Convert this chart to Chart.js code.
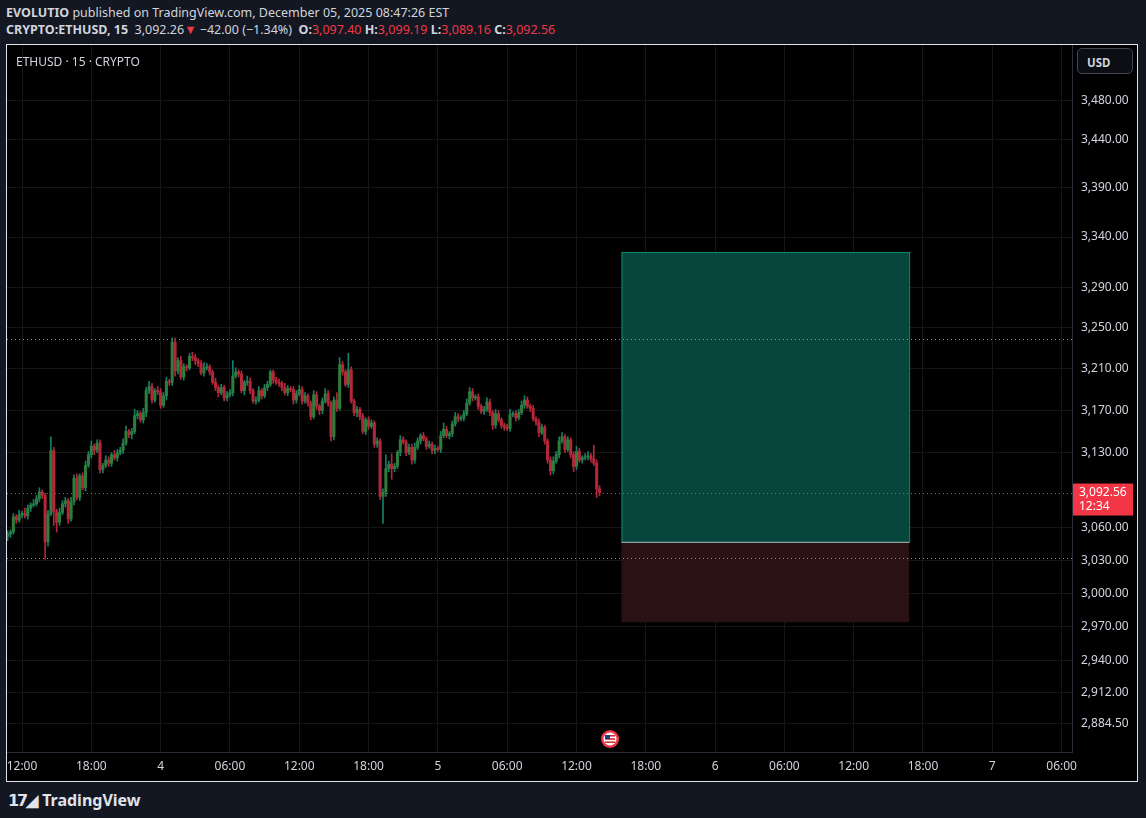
<!DOCTYPE html>
<html><head><meta charset="utf-8">
<script src="https://cdn.jsdelivr.net/npm/chart.js@4.4.1/dist/chart.umd.min.js"></script>
<style>
html,body{margin:0;padding:0;background:#131722;width:1146px;height:818px;overflow:hidden;font-family:"Noto Sans",Roboto,sans-serif;color:#d1d4dc}
#h1{position:absolute;left:6px;top:4px;font-size:12.5px;color:#d1d4dc}
#h2{position:absolute;left:6px;top:21px;font-size:12.5px;color:#d1d4dc}
#panel{position:absolute;left:6px;top:44px;width:1132px;height:738px;border:1px solid #e0e3eb;background:#000;box-sizing:border-box}
#wrap{position:absolute;left:7px;top:45px;width:1131px;height:737px}
#sym{position:absolute;left:16px;top:53px;font-size:12px;color:#d1d4dc}
#usd{position:absolute;left:1077px;top:48px;width:56px;height:26px;border:1px solid #434651;border-radius:5px;background:#0c0e13;font-size:11.5px;font-weight:bold;color:#d1d4dc;box-sizing:border-box;padding:6px 0 0 9px}
#logo{position:absolute;left:8px;top:789px;font-size:16px;font-weight:bold;color:#e0e3eb}
.r{color:#f23645}
</style></head><body>
<div id="h1"><b>EVOLUTIO</b> published on TradingView.com, December 05, 2025 08:47:26 EST</div>
<div id="h2"><b>CRYPTO:ETHUSD, 15</b>&nbsp; 3,092.26<span class="r">▼</span> −42.00 (−1.34%) &nbsp;<b>O:</b><span class="r">3,097.40</span> <b>H:</b><span class="r">3,099.19</span> <b>L:</b><span class="r">3,089.16</span> <b>C:</b><span class="r">3,092.56</span></div>
<div id="panel"></div>
<div id="wrap"><canvas id="c" width="1131" height="737"></canvas></div>
<div id="sym">ETHUSD · 15 · CRYPTO</div>
<div id="usd">USD</div>
<div id="logo"><span style="letter-spacing:-2px">𝟭𝟳</span>◢ TradingView</div>
<script>
const firstOpen = 3052;
const closes = [3054,3056,3070,3067,3072,3073,3071,3078,3081,3082,3087,3093,3090,3047,3073,3132,3075,3065,3074,3082,
3085,3068,3084,3106,3088,3108,3097,3118,3128,3136,3132,3139,3114,3118,3123,3120,3128,3125,3130,3132,
3139,3150,3147,3150,3165,3167,3161,3168,3189,3193,3180,3189,3188,3175,3184,3198,3197,3236,3208,3218,
3202,3212,3211,3222,3221,3218,3215,3206,3211,3212,3207,3197,3192,3187,3192,3182,3185,3187,3203,3207,
3205,3189,3197,3198,3189,3179,3180,3189,3184,3192,3195,3207,3199,3197,3196,3192,3187,3191,3190,3180,
3186,3190,3179,3184,3177,3164,3185,3174,3170,3179,3186,3177,3145,3180,3172,3214,3207,3195,3209,3179,
3168,3171,3164,3150,3161,3155,3158,3138,3141,3089,3093,3115,3119,3115,3117,3130,3142,3140,3130,3135,
3123,3135,3141,3146,3143,3136,3138,3132,3134,3133,3146,3152,3146,3148,3157,3164,3162,3163,3167,3177,
3188,3182,3183,3174,3169,3171,3178,3168,3156,3167,3161,3156,3154,3153,3166,3167,3163,3168,3175,3180,
3174,3172,3162,3159,3149,3154,3141,3123,3113,3122,3128,3141,3145,3133,3142,3128,3117,3131,3123,3125,
3126,3127,3124,3120,3096,3092.56];
const upExt = [3,2,3,2,4,2,5,3,2,4,3,4,2,2,3,13,3,2,4,3,
3,2,4,3,4,2,3,4,3,5,2,3,3,2,4,3,2,4,3,3,
4,5,2,3,6,3,2,4,3,5,3,2,4,3,3,4,2,4,4,3,
4,3,2,3,4,3,2,3,5,3,2,2,4,2,3,2,3,3,15,4,
2,3,2,5,3,2,3,4,2,3,3,2,2,3,3,2,4,3,2,3,
3,4,3,3,2,2,4,3,2,3,5,3,2,3,7,7,3,2,16,3,
2,3,2,3,2,3,3,2,3,2,3,13,3,10,3,2,4,3,2,3,
3,4,3,2,3,2,3,2,3,2,4,6,3,2,3,4,3,2,3,4,
4,3,2,3,2,3,4,3,2,4,3,2,2,3,5,2,3,3,4,4,
3,2,3,2,3,3,2,2,3,4,3,4,4,2,3,2,3,5,3,2,
3,4,2,13,3,3];
const dnExt = [4,3,2,3,2,3,2,3,3,2,2,3,3,16,4,2,13,9,3,2,
3,4,2,3,2,3,2,3,2,3,4,2,3,3,2,3,3,2,3,2,
3,2,3,4,2,3,2,3,4,3,3,2,3,3,2,4,3,3,5,3,
2,3,3,2,3,4,3,2,3,2,3,2,3,4,2,3,3,2,3,2,
3,2,4,3,3,2,3,2,3,2,3,2,3,2,3,3,2,3,2,4,
3,2,3,2,3,3,2,3,4,3,2,3,4,3,3,2,3,2,3,2,
3,4,3,2,3,3,2,3,3,3,25,4,3,10,3,2,3,2,3,2,
4,3,2,3,2,3,2,3,3,2,3,2,2,3,3,2,3,2,3,2,
2,3,2,3,2,3,2,3,4,3,2,3,3,2,3,2,3,2,2,3,
2,3,2,3,4,2,3,3,4,3,2,3,2,3,2,3,5,3,2,3,
2,3,3,2,8,3];
const startHour = -1.25, stepHour = 0.25;   // hours since Dec 3 12:00
const timeTickHours = [0,6,12,18,24,30,36,42,48,54,60,66,72,78,84,90];
const timeTickLabels = ["12:00","18:00","4","06:00","12:00","18:00","5","06:00","12:00","18:00","6","06:00","12:00","18:00","7","06:00"];
const priceTicks = [3480,3440,3390,3340,3290,3250,3210,3170,3130,3060,3030,3000,2970,2940,2912,2884.5];
const lastPrice = 3092.56;
const hLines = [3239, 3032];
const position = {t0:51.9, t1:76.8, target:3325, entry:3047, stop:2974};

const GREEN='#2f7d3a', RED='#b2283a', WG='#12806a', WR='#b2283a';
const bodies=[], wicks=[], bc=[], wc=[];
closes.forEach((c,i)=>{
  const o = i===0?firstOpen:closes[i-1];
  const t = startHour+i*stepHour;
  const up = c>=o;
  bodies.push({x:t,y:[o,c]});
  wicks.push({x:t,y:[Math.min(o,c)-dnExt[i],Math.max(o,c)+upExt[i]]});
  bc.push(up?GREEN:RED); wc.push(up?WG:WR);
});
const fmt = v=>v.toLocaleString('en-US',{minimumFractionDigits:2,maximumFractionDigits:2});

const overlay={id:'ov',
 beforeDatasetsDraw(ch){
  const {ctx,scales:{x,y},chartArea:a}=ch;
  ctx.save();
  const x0=x.getPixelForValue(position.t0), x1=x.getPixelForValue(position.t1);
  const yt=y.getPixelForValue(position.target), ye=y.getPixelForValue(position.entry), ys=y.getPixelForValue(position.stop);
  ctx.fillStyle='#07463c'; ctx.fillRect(x0,yt,x1-x0,ye-yt);
  ctx.fillStyle='#2a1114'; ctx.fillRect(x0,ye,x1-x0,ys-ye);
  ctx.strokeStyle='#0c8a72'; ctx.lineWidth=1; ctx.strokeRect(x0+0.5,yt+0.5,x1-x0,ye-yt);
  ctx.strokeStyle='#b0b3b8'; ctx.beginPath(); ctx.moveTo(x0,ye+0.5); ctx.lineTo(x1,ye+0.5); ctx.stroke();
  ctx.setLineDash([1,3]); ctx.strokeStyle='#8a8e98';
  hLines.forEach(p=>{const yy=Math.round(y.getPixelForValue(p))+0.5;ctx.beginPath();ctx.moveTo(a.left,yy);ctx.lineTo(a.right,yy);ctx.stroke();});
  ctx.strokeStyle='#f23645';
  const yl=Math.round(y.getPixelForValue(lastPrice))+0.5;
  ctx.beginPath();ctx.moveTo(a.left,yl);ctx.lineTo(a.right,yl);ctx.stroke();
  ctx.restore();
 },
 afterDraw(ch){
  const {ctx,scales:{x,y},chartArea:a}=ch;
  ctx.save();
  const yl=y.getPixelForValue(lastPrice);
  ctx.fillStyle='#f23645'; ctx.fillRect(a.right+1,yl-9,60,32);
  ctx.fillStyle='#fff'; ctx.font='12px "Noto Sans"'; ctx.textBaseline='middle';
  ctx.fillText(fmt(lastPrice),a.right+7,yl); ctx.fillText('12:34',a.right+7,yl+14);
  const fx=603, fy=a.bottom-13;
  ctx.beginPath();ctx.arc(fx,fy,9,0,Math.PI*2);ctx.fillStyle='#f23645';ctx.fill();
  ctx.beginPath();ctx.arc(fx,fy,6.5,0,Math.PI*2);ctx.fillStyle='#fff';ctx.fill();
  ctx.fillStyle='#d32f2f';for(let k=0;k<3;k++)ctx.fillRect(fx-5,fy-4+k*3.2,10,1.6);
  ctx.fillStyle='#1e3a8a';ctx.fillRect(fx-5,fy-4,5,4);
  ctx.restore();
 }};

new Chart(document.getElementById('c'),{
 type:'bar',
 data:{datasets:[
  {data:wicks,backgroundColor:wc,barThickness:1,grouped:false,order:2},
  {data:bodies,backgroundColor:bc,barThickness:2.4,grouped:false,order:1}
 ]},
 options:{responsive:false,animation:false,maintainAspectRatio:false,
  layout:{padding:0},
  plugins:{legend:{display:false},tooltip:{enabled:false}},
  scales:{
   x:{type:'linear',min:-1.3,max:90.9,offset:false,
      afterBuildTicks:s=>{s.ticks=timeTickHours.map(v=>({value:v}));},
      afterFit:s=>{s.height=30;s.paddingLeft=0;s.paddingRight=0;},
      grid:{color:'#161616',drawTicks:false,offset:false},border:{color:'#2a2e39'},
      ticks:{color:'#d1d4dc',font:{size:12,family:'Noto Sans'},maxRotation:0,autoSkip:false,padding:7,
        callback:(v,i)=>timeTickLabels[i]}},
   y:{type:'logarithmic',position:'right',min:2860,max:3539,
      afterBuildTicks:s=>{s.ticks=priceTicks.map(v=>({value:v}));},
      afterFit:s=>{s.width=66;s.paddingTop=0;s.paddingBottom=0;},
      grid:{color:'#161616',drawTicks:false},border:{color:'#2a2e39'},
      ticks:{color:'#d1d4dc',font:{size:12,family:'Noto Sans'},padding:9,autoSkip:false,
        callback:v=>fmt(v)}}
  }},
 plugins:[overlay]
});
</script>
</body></html>
